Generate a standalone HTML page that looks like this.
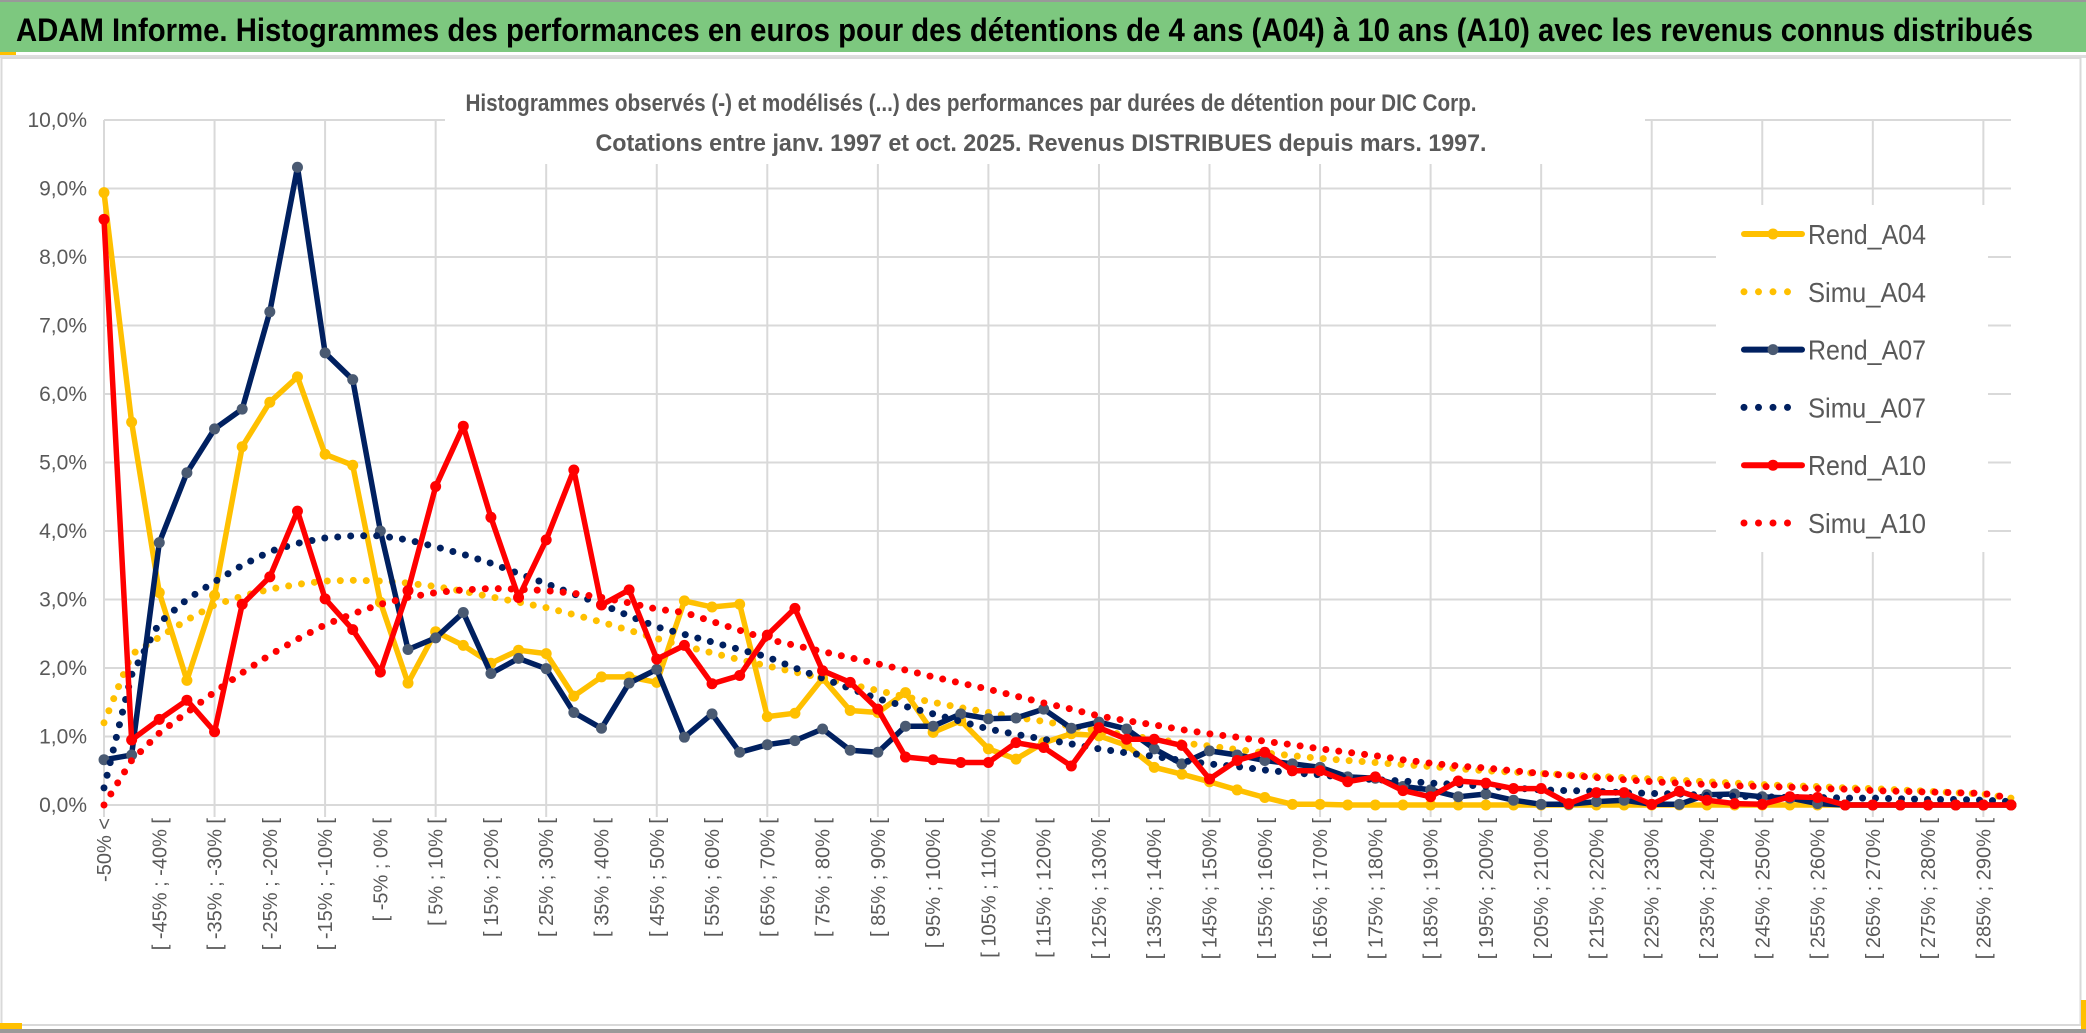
<!DOCTYPE html>
<html><head><meta charset="utf-8">
<style>
html,body{margin:0;padding:0;background:#fff;}
svg{display:block;font-family:"Liberation Sans",sans-serif;}
</style></head>
<body>
<svg id="chart" width="2086" height="1033" viewBox="0 0 2086 1033" xmlns="http://www.w3.org/2000/svg">
  <rect x="0" y="0" width="2086" height="1033" fill="#fff"/>
  <rect x="0" y="0" width="2086" height="2" fill="#999"/>
  <rect x="0" y="2" width="2086" height="50" fill="#7dc87f"/>
  <text x="16" y="41" font-size="32" font-weight="bold" fill="#000" textLength="2017" lengthAdjust="spacingAndGlyphs">ADAM Informe. Histogrammes des performances en euros pour des détentions de 4 ans (A04) à 10 ans (A10) avec les revenus connus distribués</text>
  <rect x="0" y="52" width="16" height="3" fill="#ffc000"/>
  <rect x="0" y="55" width="2086" height="3" fill="#ddd"/>
  <rect x="1.5" y="58" width="2079" height="967" fill="none" stroke="#d9d9d9" stroke-width="2"/>
  <rect x="0" y="1023" width="22" height="6" fill="#ffc000"/>
  <rect x="2081" y="1000" width="5" height="29" fill="#ffc000"/>
  <rect x="0" y="1029" width="2086" height="4" fill="#999"/>
  <g id="grid"></g>
  <rect x="445" y="72" width="1200" height="92" fill="#fff"/>
  <rect x="1716" y="205" width="272" height="347" fill="#fff"/>
  <g id="yaxis"></g>
  <g id="xaxis"></g>
  <g id="series"></g>
  <text x="971" y="111" font-size="24" font-weight="bold" fill="#595959" text-anchor="middle" textLength="1011" lengthAdjust="spacingAndGlyphs">Histogrammes observés (-) et modélisés (...) des performances par durées de détention pour DIC Corp.</text>
  <text x="1041" y="151" font-size="24" font-weight="bold" fill="#595959" text-anchor="middle" textLength="891" lengthAdjust="spacingAndGlyphs">Cotations entre janv. 1997 et oct. 2025. Revenus DISTRIBUES depuis mars. 1997.</text>
  <g id="legend"></g>
</svg>
<script>
const categories = ["-50% <","[ -50% ; -45% [","[ -45% ; -40% [","[ -40% ; -35% [","[ -35% ; -30% [","[ -30% ; -25% [","[ -25% ; -20% [","[ -20% ; -15% [","[ -15% ; -10% [","[ -10% ; -5% [",
"[ -5% ; 0% [","[ 0% ; 5% [","[ 5% ; 10% [","[ 10% ; 15% [","[ 15% ; 20% [","[ 20% ; 25% [","[ 25% ; 30% [","[ 30% ; 35% [","[ 35% ; 40% [","[ 40% ; 45% [",
"[ 45% ; 50% [","[ 50% ; 55% [","[ 55% ; 60% [","[ 60% ; 65% [","[ 65% ; 70% [","[ 70% ; 75% [","[ 75% ; 80% [","[ 80% ; 85% [","[ 85% ; 90% [","[ 90% ; 95% [",
"[ 95% ; 100% [","[ 100% ; 105% [","[ 105% ; 110% [","[ 110% ; 115% [","[ 115% ; 120% [","[ 120% ; 125% [","[ 125% ; 130% [","[ 130% ; 135% [","[ 135% ; 140% [","[ 140% ; 145% [",
"[ 145% ; 150% [","[ 150% ; 155% [","[ 155% ; 160% [","[ 160% ; 165% [","[ 165% ; 170% [","[ 170% ; 175% [","[ 175% ; 180% [","[ 180% ; 185% [","[ 185% ; 190% [","[ 190% ; 195% [",
"[ 195% ; 200% [","[ 200% ; 205% [","[ 205% ; 210% [","[ 210% ; 215% [","[ 215% ; 220% [","[ 220% ; 225% [","[ 225% ; 230% [","[ 230% ; 235% [","[ 235% ; 240% [","[ 240% ; 245% [",
"[ 245% ; 250% [","[ 250% ; 255% [","[ 255% ; 260% [","[ 260% ; 265% [","[ 265% ; 270% [","[ 270% ; 275% [","[ 275% ; 280% [","[ 280% ; 285% [","[ 285% ; 290% [","[ 290% ; 295% ["];
const yTicks = [0,1,2,3,4,5,6,7,8,9,10];
const yTickLabels = ["0,0%","1,0%","2,0%","3,0%","4,0%","5,0%","6,0%","7,0%","8,0%","9,0%","10,0%"];
const rendA04 = [8.94,5.59,3.10,1.82,3.06,5.23,5.88,6.25,5.12,4.96,2.96,1.78,2.53,2.33,2.07,2.26,2.21,1.59,1.87,1.87,1.79,2.98,2.89,2.93,1.29,1.34,1.85,1.38,1.35,1.64,1.06,1.23,0.82,0.67,0.91,1.04,1.01,0.87,0.55,0.45,0.34,0.22,0.11,0.01,0.01,0,0,0,0,0,0,0,0,0,0,0,0,0,0,0,0,0,0,0,0,0,0,0,0,0];
const simuA04 = [1.2,2.2,2.45,2.7,2.92,3.05,3.15,3.22,3.27,3.28,3.27,3.24,3.19,3.12,3.04,2.96,2.88,2.78,2.67,2.55,2.43,2.32,2.22,2.12,2.03,1.94,1.85,1.76,1.67,1.58,1.50,1.42,1.35,1.28,1.22,1.15,1.08,1.02,0.96,0.91,0.86,0.81,0.76,0.72,0.68,0.65,0.62,0.59,0.56,0.53,0.50,0.48,0.46,0.44,0.42,0.40,0.38,0.36,0.34,0.32,0.30,0.28,0.27,0.25,0.24,0.22,0.20,0.18,0.16,0.10];
const rendA07 = [0.66,0.73,3.83,4.85,5.49,5.78,7.2,9.31,6.6,6.21,4.0,2.27,2.44,2.81,1.92,2.14,1.99,1.35,1.12,1.78,1.98,0.99,1.33,0.77,0.88,0.94,1.11,0.80,0.77,1.15,1.15,1.33,1.26,1.27,1.40,1.12,1.21,1.11,0.82,0.60,0.79,0.73,0.65,0.60,0.55,0.41,0.39,0.27,0.22,0.12,0.16,0.07,0.01,0.01,0.05,0.07,0.01,0.01,0.15,0.16,0.12,0.10,0.02,0,0,0,0,0,0,0];
const simuA07 = [0.25,1.9,2.66,3.0,3.26,3.5,3.7,3.82,3.9,3.93,3.93,3.87,3.77,3.66,3.53,3.38,3.23,3.08,2.93,2.76,2.6,2.49,2.38,2.27,2.16,2.0,1.85,1.7,1.55,1.44,1.33,1.22,1.11,1.03,0.96,0.89,0.82,0.76,0.71,0.65,0.6,0.56,0.51,0.47,0.44,0.40,0.37,0.35,0.32,0.30,0.27,0.25,0.22,0.21,0.20,0.18,0.17,0.16,0.14,0.13,0.12,0.11,0.11,0.10,0.10,0.09,0.08,0.08,0.07,0.05];
const rendA10 = [8.55,0.95,1.25,1.53,1.07,2.93,3.33,4.29,3.01,2.56,1.94,3.13,4.65,5.53,4.2,3.03,3.87,4.89,2.92,3.14,2.13,2.33,1.77,1.89,2.48,2.87,1.96,1.79,1.40,0.70,0.66,0.62,0.62,0.91,0.84,0.57,1.13,0.96,0.96,0.87,0.38,0.65,0.77,0.50,0.50,0.34,0.41,0.21,0.12,0.35,0.32,0.24,0.24,0.02,0.18,0.18,0.01,0.20,0.07,0.02,0.01,0.12,0.11,0,0,0,0,0,0,0];
const simuA10 = [0,0.65,1.05,1.35,1.65,1.93,2.19,2.42,2.63,2.79,2.93,3.03,3.1,3.14,3.16,3.15,3.13,3.09,3.03,2.95,2.86,2.81,2.68,2.55,2.42,2.33,2.24,2.15,2.06,1.97,1.87,1.78,1.69,1.59,1.49,1.40,1.30,1.23,1.17,1.10,1.04,0.99,0.93,0.88,0.82,0.77,0.72,0.66,0.61,0.57,0.54,0.50,0.46,0.43,0.40,0.37,0.34,0.32,0.30,0.28,0.27,0.26,0.24,0.23,0.21,0.20,0.19,0.18,0.17,0.10];
const seriesNames = ["Rend_A04","Simu_A04","Rend_A07","Simu_A07","Rend_A10","Simu_A10"];

const NS = "http://www.w3.org/2000/svg";
const X0 = 104, X1 = 2011, Y0 = 805, Y10 = 120;
function xScale(i){ return X0 + i * (X1 - X0) / (categories.length - 1); }
function yScale(v){ return Y0 - v * (Y0 - Y10) / 10; }
function mk(tag, attrs, parent){ const e = document.createElementNS(NS, tag); for (const k in attrs) e.setAttribute(k, attrs[k]); parent.appendChild(e); return e; }

const grid = document.getElementById('grid');
yTicks.forEach(function(t){
  const l = mk('line', {x1: X0, x2: X1, y1: yScale(t), y2: yScale(t), stroke: '#d9d9d9', 'stroke-width': 2}, grid);
  
  
});
for (let i = 0; i < categories.length; i += 4) {
  const l = mk('line', {x1: xScale(i), x2: xScale(i), y1: yScale(10), y2: Y0 + 12, stroke: '#d9d9d9', 'stroke-width': 2}, grid);
  
  
}

const yaxis = document.getElementById('yaxis');
yTicks.forEach(function(t, i){
  const tx = mk('text', {x: 87, y: yScale(t) + 7, 'font-size': 21, fill: '#595959', 'text-anchor': 'end'}, yaxis);
  tx.textContent = yTickLabels[i];
  
  
});

const xaxis = document.getElementById('xaxis');
categories.forEach(function(c, i){
  if (i % 2 !== 0) return;
  const x = xScale(i) + 7, y = 818;
  const tx = mk('text', {x: x, y: y, 'font-size': 20, fill: '#595959', 'text-anchor': 'end', transform: 'rotate(-90 ' + x + ' ' + y + ')'}, xaxis);
  tx.textContent = c;
  
  
});

const seriesG = document.getElementById('series');
function pts(arr){ return arr.map(function(v, i){ return xScale(i).toFixed(1) + ',' + yScale(v).toFixed(1); }).join(' '); }
function drawRend(arr, color, markerColor, name){
  const g = mk('g', {}, seriesG);
  
  
  const pl = mk('polyline', {points: pts(arr), fill: 'none', stroke: color, 'stroke-width': 5.5, 'stroke-linejoin': 'round'}, g);
  
  
  arr.forEach(function(v, i){
    const c = mk('circle', {cx: xScale(i), cy: yScale(v), r: 5.5, fill: markerColor}, g);
    
    
  });
}
function drawSimu(arr, color, name){
  const pl = mk('polyline', {points: pts(arr), fill: 'none', stroke: color, 'stroke-width': 7, 'stroke-linecap': 'round', 'stroke-dasharray': '0 13'}, seriesG);
  
  
}
drawRend(rendA04, '#ffc000', '#ffc000', 'rend-a04');
drawSimu(simuA04, '#ffc000', 'simu-a04');
drawRend(rendA07, '#002060', '#4a5a72', 'rend-a07');
drawSimu(simuA07, '#002060', 'simu-a07');
drawRend(rendA10, '#ff0000', '#ff0000', 'rend-a10');
drawSimu(simuA10, '#ff0000', 'simu-a10');

const legend = document.getElementById('legend');
const legColors = ['#ffc000','#ffc000','#002060','#002060','#ff0000','#ff0000'];
const legMarkers = ['#ffc000',null,'#4a5a72',null,'#ff0000',null];
seriesNames.forEach(function(n, i){
  const y = 234 + i * 57.8;
  const g = mk('g', {}, legend);
  
  
  if (legMarkers[i]) {
    mk('line', {x1: 1744, x2: 1802, y1: y, y2: y, stroke: legColors[i], 'stroke-width': 6, 'stroke-linecap': 'round'}, g);
    mk('circle', {cx: 1773, cy: y, r: 5.5, fill: legMarkers[i]}, g);
  } else {
    mk('line', {x1: 1744, x2: 1802, y1: y, y2: y, stroke: legColors[i], 'stroke-width': 7, 'stroke-linecap': 'round', 'stroke-dasharray': '0 14.5'}, g);
  }
  const t = mk('text', {x: 1808, y: y + 10, 'font-size': 28, fill: '#595959', textLength: 118, lengthAdjust: 'spacingAndGlyphs'}, g);
  t.textContent = n;
});
</script>
</body></html>
